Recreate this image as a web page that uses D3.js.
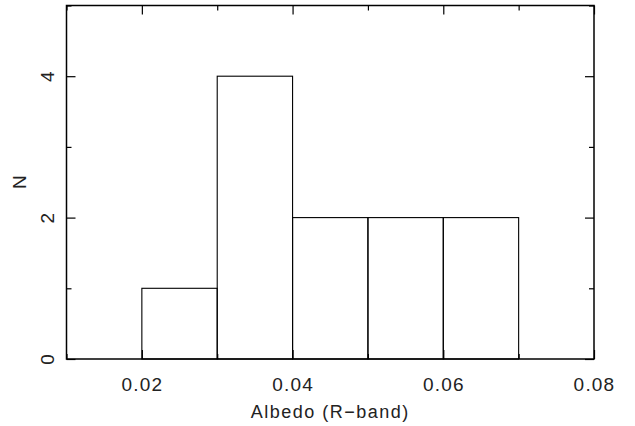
<!DOCTYPE html>
<html>
<head>
<meta charset="utf-8">
<script src="https://cdn.jsdelivr.net/npm/d3@7"></script>
<style>
  body { margin: 0; background: #fff; }
  text { font-family: "Liberation Sans", Arial, sans-serif; fill: #222; }
</style>
</head>
<body>
<div id="chart"></div>
<script>
// histogram bins (albedo, R-band) and counts
var binStarts = [0.01, 0.02, 0.03, 0.04, 0.05, 0.06, 0.07];
var binWidth = 0.01;
var counts = [0, 1, 4, 2, 2, 2, 0];

var xMajor = [0.02, 0.04, 0.06, 0.08];
var xMinor = [0.01, 0.03, 0.05, 0.07];
var yMajor = [0, 2, 4];
var yMinor = [1, 3, 5];

var margin = { top: 5.5, right: 41, bottom: 67, left: 66.5 },
    width = 635 - margin.left - margin.right,
    height = 426 - margin.top - margin.bottom;

var svg = d3.select("#chart")
    .append("svg")
    .attr("width", 635)
    .attr("height", 426)
    .append("g")
    .attr("transform", "translate(" + margin.left + "," + margin.top + ")");

var x = d3.scaleLinear().domain([0.01, 0.08]).range([0, width]);
var y = d3.scaleLinear().domain([0, 5]).range([height, 0]);

// bars (outline only)
svg.selectAll("rect.bar")
    .data(counts.map(function (c, i) { return { x0: binStarts[i], n: c }; }))
    .enter()
    .append("rect")
    .attr("class", "bar")
    .attr("x", function (d) { return x(d.x0); })
    .attr("y", function (d) { return y(d.n); })
    .attr("width", function (d) { return x(d.x0 + binWidth) - x(d.x0); })
    .attr("height", function (d) { return height - y(d.n); })
    .attr("fill", "none")
    .attr("stroke", "#000")
    .attr("stroke-width", 1.1);

function styleAxis(g) {
    g.select(".domain").remove();
    g.selectAll("line").attr("stroke", "#000").attr("stroke-width", 1.2);
}

// bottom axis with labels
svg.append("g")
    .attr("transform", "translate(0," + height + ")")
    .call(d3.axisBottom(x).tickValues(xMajor).tickSize(-9).tickPadding(19).tickFormat(d3.format(".2f")))
    .call(styleAxis)
    .selectAll("text")
    .style("font-size", "19px")
    .style("letter-spacing", "1.2px");
svg.append("g")
    .attr("transform", "translate(0," + height + ")")
    .call(d3.axisBottom(x).tickValues(xMinor).tickSize(-5).tickFormat(""))
    .call(styleAxis);

// top axis ticks
svg.append("g")
    .call(d3.axisTop(x).tickValues(xMajor).tickSize(-9).tickFormat(""))
    .call(styleAxis);
svg.append("g")
    .call(d3.axisTop(x).tickValues(xMinor).tickSize(-5).tickFormat(""))
    .call(styleAxis);

// left axis with rotated labels
var yl = svg.append("g")
    .call(d3.axisLeft(y).tickValues(yMajor).tickSize(-9).tickFormat(d3.format("d")))
    .call(styleAxis);
yl.selectAll("text")
    .attr("x", null)
    .attr("dy", "0")
    .attr("text-anchor", "middle")
    .attr("transform", "translate(-13,0) rotate(-90)")
    .style("font-size", "19px");
svg.append("g")
    .call(d3.axisLeft(y).tickValues(yMinor).tickSize(-5).tickFormat(""))
    .call(styleAxis);

// right axis ticks
svg.append("g")
    .attr("transform", "translate(" + width + ",0)")
    .call(d3.axisRight(y).tickValues(yMajor).tickSize(-9).tickFormat(""))
    .call(styleAxis);
svg.append("g")
    .attr("transform", "translate(" + width + ",0)")
    .call(d3.axisRight(y).tickValues(yMinor).tickSize(-5).tickFormat(""))
    .call(styleAxis);

// frame
svg.append("rect")
    .attr("width", width)
    .attr("height", height)
    .attr("fill", "none")
    .attr("stroke", "#000")
    .attr("stroke-width", 1.5);

// axis labels
svg.append("text")
    .attr("text-anchor", "middle")
    .attr("x", width / 2)
    .attr("y", height + 59)
    .style("font-size", "18px")
    .style("letter-spacing", "1.5px")
    .text("Albedo (R\u2212band)");

svg.append("text")
    .attr("text-anchor", "middle")
    .attr("transform", "translate(" + (-41) + "," + (height / 2) + ") rotate(-90)")
    .style("font-size", "19px")
    .text("N");
</script>
</body>
</html>
